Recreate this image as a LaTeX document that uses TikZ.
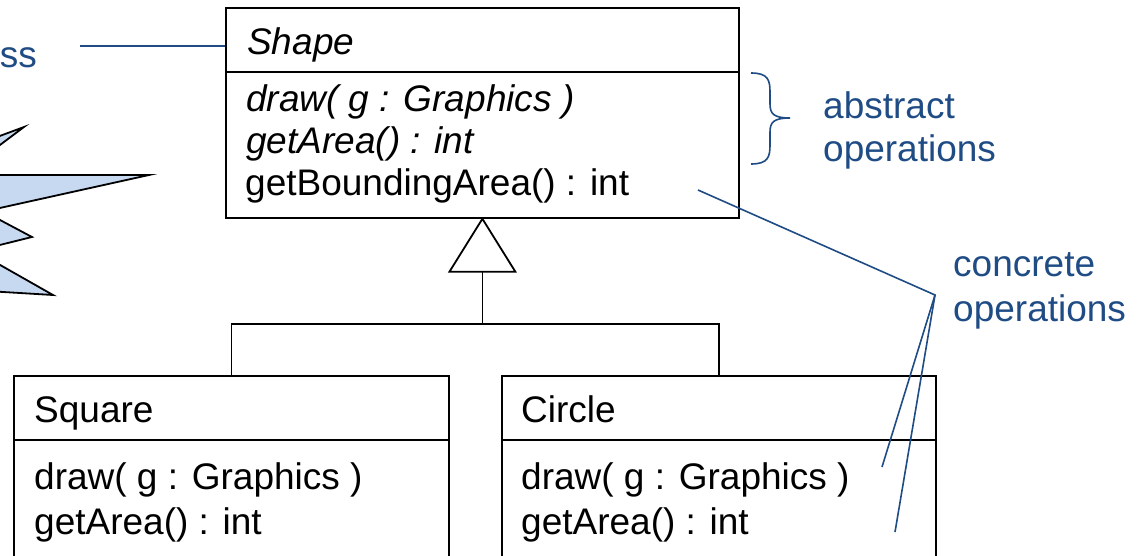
\documentclass[tikz,border=0pt]{standalone}
\usepackage{fontspec}
\setmainfont{Liberation Sans}
\definecolor{noteblue}{RGB}{31,76,132}
\definecolor{starfill}{RGB}{198,217,240}
\tikzset{
  classbox/.style={draw, line width=1.8pt, inner sep=0, anchor=north west},
  sepline/.style={line width=1.8pt},
  inh/.style={line width=1.8pt},
  lbl/.style={inner sep=0, anchor=base west, font=\fontsize{37}{44}\selectfont},
  ilbl/.style={lbl, font=\fontsize{37}{44}\selectfont\itshape},
  nlbl/.style={lbl, text=noteblue},
  note/.style={draw=noteblue, line width=1.6pt},
  starshape/.style={draw=black, fill=starfill, line width=1.8pt, line join=miter},
}
\begin{document}
\begin{tikzpicture}[x=1pt, y=-1pt]
\useasboundingbox (0,0) rectangle (1137,556);
\clip (0,0) rectangle (1137,556);
\fill[white] (0,0) rectangle (1137,556);

% star (partially visible)
\filldraw[starshape] (-30,147) -- (24,127) -- (-40,175) -- (149,175) -- (-16,211.5) -- (32,237)
  -- (-24.5,251) -- (53,295) -- (-30,290) -- (-80,290) -- (-80,147) -- cycle;

% Shape class
\node[classbox, minimum width=513pt, minimum height=210pt] (shape) at (225,7) {};
\draw[sepline] (225,72) -- (738,72);
\node[ilbl] (shapename) at (247,55) {Shape};
\node[ilbl] (sdraw) at (246,112) {draw( g : Graphics )};
\node[ilbl] (sarea) at (246,154) {getArea() : int};
\node[lbl] (sbound) at (245,196) {getBoundingArea() : int};

% Square class
\node[classbox, minimum width=435pt, minimum height=240pt] (square) at (13,375) {};
\draw[sepline] (13,440) -- (448,440);
\node[lbl] (sqname) at (34,422) {Square};
\node[lbl] (sqdraw) at (34,489) {draw( g : Graphics )};
\node[lbl] (sqarea) at (34,534) {getArea() : int};

% Circle class
\node[classbox, minimum width=434pt, minimum height=240pt] (circle) at (501,375) {};
\draw[sepline] (501,440) -- (935,440);
\node[lbl] (ciname) at (521,422) {Circle};
\node[lbl] (cidraw) at (521,489) {draw( g : Graphics )};
\node[lbl] (ciarea) at (521,534) {getArea() : int};

% generalization
\draw[inh, line join=miter] (shape.south) -- ++(-33,53) -- ++(66,0) -- cycle;
\coordinate (tribase) at ([yshift=-53pt]shape.south);
\coordinate (bar) at ([yshift=-52pt]tribase);
\draw[inh] (tribase) -- (bar);
\draw[inh] (bar) -| (square.north);
\draw[inh] (bar) -| (circle.north);

% notes
\node[nlbl, anchor=base east] (ss) at (37,68) {ss};
\coordinate (ssend) at (80,46);
\coordinate (shapeattach) at (225,46);
\draw[note] (ssend) -- (shapeattach);

\coordinate (brtop) at (751,73);
\coordinate (brtip) at (790,118);
\coordinate (brbot) at (751,164);
\draw[note] (brtop) .. controls (768,73) and (770,80) .. (770,92) -- (770,104)
  .. controls (770,114) and (774,118) .. (brtip)
  .. controls (774,118) and (770,122) .. (770,132) -- (770,145)
  .. controls (770,157) and (768,164) .. (brbot);
\node[nlbl] (abs1) at (823,119) {abstract};
\node[nlbl] (abs2) at (823,162) {operations};

\node[nlbl] (con1) at (953,276) {concrete};
\node[nlbl] (con2) at (953,321) {operations};
\coordinate (cc) at (935,295);
\coordinate (cbound) at (698,190);
\coordinate (cdraw) at (882,467);
\coordinate (carea) at (895,532);
\draw[note, line join=miter] (cbound) -- (cc) -- (cdraw);
\draw[note] (cc) -- (carea);
\end{tikzpicture}
\end{document}
